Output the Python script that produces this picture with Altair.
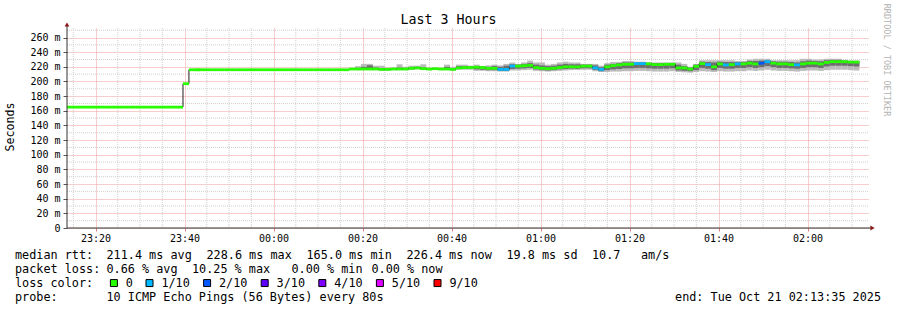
import altair as alt
import pandas as pd

FONT = "DejaVu Sans Mono"

# ---------------- time grid (minutes after 23:00) ----------------
X_START, X_END = 13.5833, 193.5833      # 23:13:35 .. 02:13:35
FIRST_STEP = 12.9833                    # start of first 80 s RRD step
STEP_MIN = 80 / 60
Y_TOP = 273

# ---------------- axis ticks ----------------
x_major = [20, 40, 60, 80, 100, 120, 140, 160, 180]
x_major_labels = ["23:20", "23:40", "00:00", "00:20", "00:40", "01:00", "01:20", "01:40", "02:00"]
x_minor = [15, 25, 30, 35, 45, 50, 55, 65, 70, 75, 85, 90, 95, 105, 110, 115,
           125, 130, 135, 145, 150, 155, 165, 170, 175, 185, 190]
y_major = [0, 20, 40, 60, 80, 100, 120, 140, 160, 180, 200, 220, 240, 260]
y_major_labels = ["0", "20 m", "40 m", "60 m", "80 m", "100 m", "120 m", "140 m",
                  "160 m", "180 m", "200 m", "220 m", "240 m", "260 m"]
y_minor = [10, 30, 50, 70, 90, 110, 130, 150, 170, 190, 210, 230, 250, 270]

# ---------------- loss colours ----------------
loss_labels = ["0", "1/10", "2/10", "3/10", "4/10", "5/10", "9/10"]
loss_colors = ["#26ff00", "#00b8ff", "#0059ff", "#5e00ff", "#7e00ff", "#dd00ff", "#ff0000"]

# ---------------- median rtt (ms) per step ----------------
median_early = [165] * 20 + [197] + [216] * 27 + [217]          # steps 0..48
loss_early = ["0"] * 49

median_smoke = [
    217, 217, 217, 217, 216.5, 216.5, 217, 217, 217, 218,
    218.5, 217.5, 217, 217.5, 217, 217, 216.5, 218.5, 219, 219,
    219.5, 219, 218, 218, 216.5, 216.5, 221, 221, 221.5, 222,
    219, 218, 217.5, 218, 219, 220, 220, 220, 221, 221,
    218.5, 216.5, 220, 221.6, 222.6, 223.5, 223.5, 224.4, 224.4, 224,
    223, 223, 223.5, 223.5, 218.5, 218.5, 217, 220.7, 224.4, 223,
    220, 224, 222.6, 223, 224, 224, 225, 224, 225, 227,
    225, 224, 224, 223, 222.6, 224, 225, 225, 224, 226,
    227, 227, 227, 226.5, 226.4,
]
loss_smoke = [
    "0", "0", "0", "0", "0", "0", "0", "0", "0", "0",
    "0", "0", "0", "0", "0", "0", "0", "0", "0", "0",
    "0", "0", "0", "0", "1/10", "1/10", "1/10", "0", "0", "0",
    "0", "0", "0", "0", "0", "0", "0", "0", "0", "0",
    "1/10", "1/10", "0", "0", "0", "0", "0", "1/10", "1/10", "0",
    "0", "0", "0", "0", "0", "0", "0", "0", "0", "1/10",
    "0", "0", "1/10", "0", "1/10", "0", "0", "0", "2/10", "1/10",
    "0", "0", "0", "0", "1/10", "0", "0", "0", "0", "0",
    "0", "0", "0", "0", "0",
]
# smoke: outer ping range and inner ping range (ms), steps 49..133
smoke_hi = [
    221, 224, 224, 221.5, 221.5, 219, 219, 223.5, 220, 221.5,
    221.5, 223.5, 218.5, 218.5, 218.5, 223, 220, 223, 223, 221.6,
    223, 221, 222, 223, 222, 224, 225.8, 224, 226, 228.5,
    226, 226, 223, 224, 226, 227, 226, 226, 224, 224,
    224, 221.6, 225, 226.7, 226.7, 228, 228, 227, 227, 226,
    226, 226, 226, 226, 226, 224, 220, 224, 229, 229,
    229, 229, 229, 229, 228, 228, 230, 231, 231, 231,
    229, 229, 229, 229, 229, 231, 231, 230, 230, 231,
    231, 231, 229.5, 228.5, 228.5,
]
smoke_lo = [
    215.5, 215.5, 215.5, 215.5, 215, 215, 215.5, 215.5, 215.5, 216,
    216.5, 216, 215.5, 216, 215.5, 215.5, 215, 216, 216, 216,
    214.5, 214.5, 214, 214, 213.5, 213.5, 215, 215, 215.5, 216,
    214.5, 214, 213.5, 214, 214.5, 215, 215.5, 215.5, 216, 216,
    214, 213, 213, 213.5, 213.5, 214, 214, 214.5, 214.5, 214,
    213.5, 213.5, 213.5, 214, 213, 212.5, 212, 213, 214, 213.5,
    213, 214, 213.5, 213.5, 214, 214, 215, 214.5, 215, 216,
    215, 214.5, 214.5, 214, 213.5, 214.5, 215, 215, 214.5, 215.5,
    216, 216, 216, 215.5, 215,
]
core_hi = [
    218.5, 220, 222, 219, 218, 217.5, 218, 219, 218.5, 219.5,
    220, 219, 218, 218, 217.5, 220, 218, 221, 221, 220.5,
    221, 220.5, 220, 221, 220, 221.5, 223.5, 223, 224, 225,
    223, 222, 221, 221.5, 223, 224, 223.5, 223.5, 223, 223,
    222, 219.5, 223, 224, 225, 226, 226, 226, 226, 225.5,
    225, 225, 225, 225, 223, 221, 219, 223, 227, 226.5,
    226, 227, 226.5, 226.5, 226.5, 226.5, 228, 228, 228.5, 229,
    227.5, 227, 227, 226.5, 226, 227.5, 228.5, 228, 227.5, 229,
    229.5, 229.5, 228.5, 228, 228,
]
core_lo = [
    216, 216, 216, 216, 215.5, 215.5, 216, 216, 216, 216.5,
    217, 216.5, 216, 216.5, 216, 216, 215.5, 217, 217.5, 217.5,
    216.5, 216, 215.5, 215.5, 214.5, 214.5, 217, 217.5, 218, 218.5,
    216.5, 215.5, 215, 215.5, 216.5, 217, 217.5, 217.5, 218, 218,
    216, 214, 215.5, 216.5, 217, 218, 218, 218.5, 218.5, 218,
    217.5, 217.5, 217.5, 218, 215, 214.5, 214, 215.5, 218.5, 217.5,
    215.5, 218.5, 217.5, 217.5, 218.5, 218.5, 219.5, 218.5, 219.5, 221,
    219.5, 218.5, 218.5, 218, 217.5, 218.5, 219.5, 219.5, 218.5, 220.5,
    221.5, 221.5, 221.5, 221, 220.5,
]

# ---------------- text ----------------
title_text = "Last 3 Hours"
y_title = "Seconds"
watermark = "RRDTOOL / TOBI OETIKER"
stats_lines = [
    ["median rtt:", "211.4 ms avg", "228.6 ms max", "165.0 ms min", "226.4 ms now",
     "19.8 ms sd", "10.7", "am/s"],
    ["packet loss:", "0.66 % avg", "10.25 % max", "0.00 % min", "0.00 % now"],
    ["loss color:"],
    ["probe:", "10 ICMP Echo Pings (56 Bytes) every 80s"],
]
end_text = "end: Tue Oct 21 02:13:35 2025"

# ---------------- layout (pixels) ----------------
PL, PT, W, H = 67, 28, 801, 200
TXT = 11.8
stats_x = [
    [15, 106.5, 206.5, 306.5, 406.5, 506.5, 592, 641],
    [15, 106.5, 192, 291.5, 371.5],
    [15],
    [15, 106.5],
]
stats_baseline = [258.5, 272.5, 286.5, 300.5]

# ---------------- build tables ----------------
median_all = median_early + median_smoke
loss_all = loss_early + loss_smoke
n = len(median_all)
steps = pd.DataFrame({
    "t0": [FIRST_STEP + k * STEP_MIN for k in range(n)],
    "t1": [FIRST_STEP + (k + 1) * STEP_MIN for k in range(n)],
    "median": median_all,
    "loss": loss_all,
})
smoke = steps.iloc[len(median_early):].reset_index(drop=True).copy()
smoke["hi"] = smoke_hi
smoke["lo"] = smoke_lo
smoke["chi"] = core_hi
smoke["clo"] = core_lo

xs = alt.Scale(domain=[X_START, X_END], nice=False, zero=False)
ys = alt.Scale(domain=[0, Y_TOP], nice=False, zero=False)


def ternary(values, labels):
    parts = [f"datum.value == {v} ? '{l}'" for v, l in zip(values, labels)]
    return " : ".join(parts) + " : ''"


x_axis = alt.Axis(values=x_major, labelExpr=ternary(x_major, x_major_labels),
                  grid=True, gridColor="#EE9A9A", gridDash=[1, 1], gridOpacity=1,
                  domain=False, ticks=True, tickSize=3, tickColor="#E08080",
                  labelFont=FONT, labelFontSize=10, labelColor="#000000",
                  labelPadding=2, labelFlush=False, labelOverlap=False, title=None)
y_axis = alt.Axis(values=y_major, labelExpr=ternary(y_major, y_major_labels),
                  grid=True, gridColor="#EE9A9A", gridDash=[1, 1], gridOpacity=1,
                  domain=False, ticks=True, tickSize=4, tickColor="#555555",
                  labelFont=FONT, labelFontSize=10, labelColor="#000000",
                  labelPadding=3, labelOverlap=False, title=None)

one = alt.Data(values=[{}])

grid_x = alt.Chart(pd.DataFrame({"gx": x_minor})).mark_rule(
    color="#CFCFCF", strokeDash=[1, 1], strokeWidth=1
).encode(x=alt.X("gx:Q", scale=xs, axis=x_axis))
grid_y = alt.Chart(pd.DataFrame({"gy": y_minor})).mark_rule(
    color="#CFCFCF", strokeDash=[1, 1], strokeWidth=1
).encode(y=alt.Y("gy:Q", scale=ys, axis=y_axis))

smoke_outer = alt.Chart(smoke).mark_rect(color="#BBBBBB", clip=True).encode(
    x=alt.X("t0:Q", scale=xs, axis=x_axis), x2="t1:Q",
    y=alt.Y("lo:Q", scale=ys, axis=y_axis), y2="hi:Q")
smoke_core = alt.Chart(smoke).mark_rect(color="#6E6E6E", clip=True).encode(
    x=alt.X("t0:Q", scale=xs, axis=x_axis), x2="t1:Q",
    y=alt.Y("clo:Q", scale=ys, axis=y_axis), y2="chi:Q")

median_line = alt.Chart(steps).mark_line(
    interpolate="step-after", color="#202020", strokeWidth=1, clip=True
).encode(x=alt.X("t0:Q", scale=xs, axis=x_axis),
         y=alt.Y("median:Q", scale=ys, axis=y_axis))

median_band = alt.Chart(steps).transform_calculate(
    b0="datum.median - 1.9", b1="datum.median + 1.9"
).mark_rect(clip=True).encode(
    x=alt.X("t0:Q", scale=xs, axis=x_axis), x2="t1:Q",
    y=alt.Y("b0:Q", scale=ys, axis=y_axis), y2="b1:Q",
    color=alt.Color("loss:N", scale=alt.Scale(domain=loss_labels, range=loss_colors),
                    legend=alt.Legend(orient="none", legendX=41, legendY=249,
                                      direction="horizontal", title=None,
                                      symbolType="square", symbolSize=49,
                                      symbolStrokeColor="#000000", symbolStrokeWidth=1,
                                      symbolOpacity=1, labelFont=FONT,
                                      labelFontSize=TXT, labelColor="#000000",
                                      labelOffset=6, columnPadding=10.6, padding=0,
                                      labelLimit=200)))

axis_y_line = alt.Chart(one).mark_rule(color="#333333", strokeWidth=1).encode(
    x=alt.value(0), y=alt.value(-3), y2=alt.value(H))
axis_x_line = alt.Chart(one).mark_rule(color="#333333", strokeWidth=1).encode(
    x=alt.value(0), x2=alt.value(W + 3), y=alt.value(H))
arrow_up = alt.Chart(one).mark_point(shape="triangle-up", filled=True, size=24,
                                     color="#8B1A1A", opacity=1).encode(
    x=alt.value(0), y=alt.value(-3.5))
arrow_right = alt.Chart(one).mark_point(shape="triangle-right", filled=True, size=24,
                                        color="#8B1A1A", opacity=1).encode(
    x=alt.value(W + 4.5), y=alt.value(H))

texts = []


def add_text(txt, x_abs, y_abs, size=TXT, align="left", baseline="alphabetic",
             angle=0, color="#000000"):
    texts.append(alt.Chart(one).mark_text(
        text=txt, font=FONT, fontSize=size, align=align, baseline=baseline,
        angle=angle, color=color
    ).encode(x=alt.value(x_abs - PL), y=alt.value(y_abs - PT)))


add_text(title_text, 448.5, 23.5, size=13.3, align="center")
add_text(y_title, 11, 127, size=11.6, align="center", baseline="middle", angle=270)
add_text(watermark, 887, 60, size=8.5, align="center", baseline="middle", angle=90,
         color="#B4B4B4")
for line, xs_line, yb in zip(stats_lines, stats_x, stats_baseline):
    for txt, xx in zip(line, xs_line):
        add_text(txt, xx, yb)
add_text(end_text, 881, stats_baseline[3], align="right")

chart = alt.layer(
    grid_x, grid_y, smoke_outer, smoke_core, median_line, median_band,
    axis_y_line, axis_x_line, arrow_up, arrow_right, *texts
).properties(
    width=W, height=H,
    padding={"left": PL, "top": PT, "right": 897 - PL - W, "bottom": 310 - PT - H},
    autosize=alt.AutoSizeParams(type="none"),
    background="white",
).configure_view(stroke=None)

chart.save("out.html", embed_options={"renderer": "svg", "actions": False})
